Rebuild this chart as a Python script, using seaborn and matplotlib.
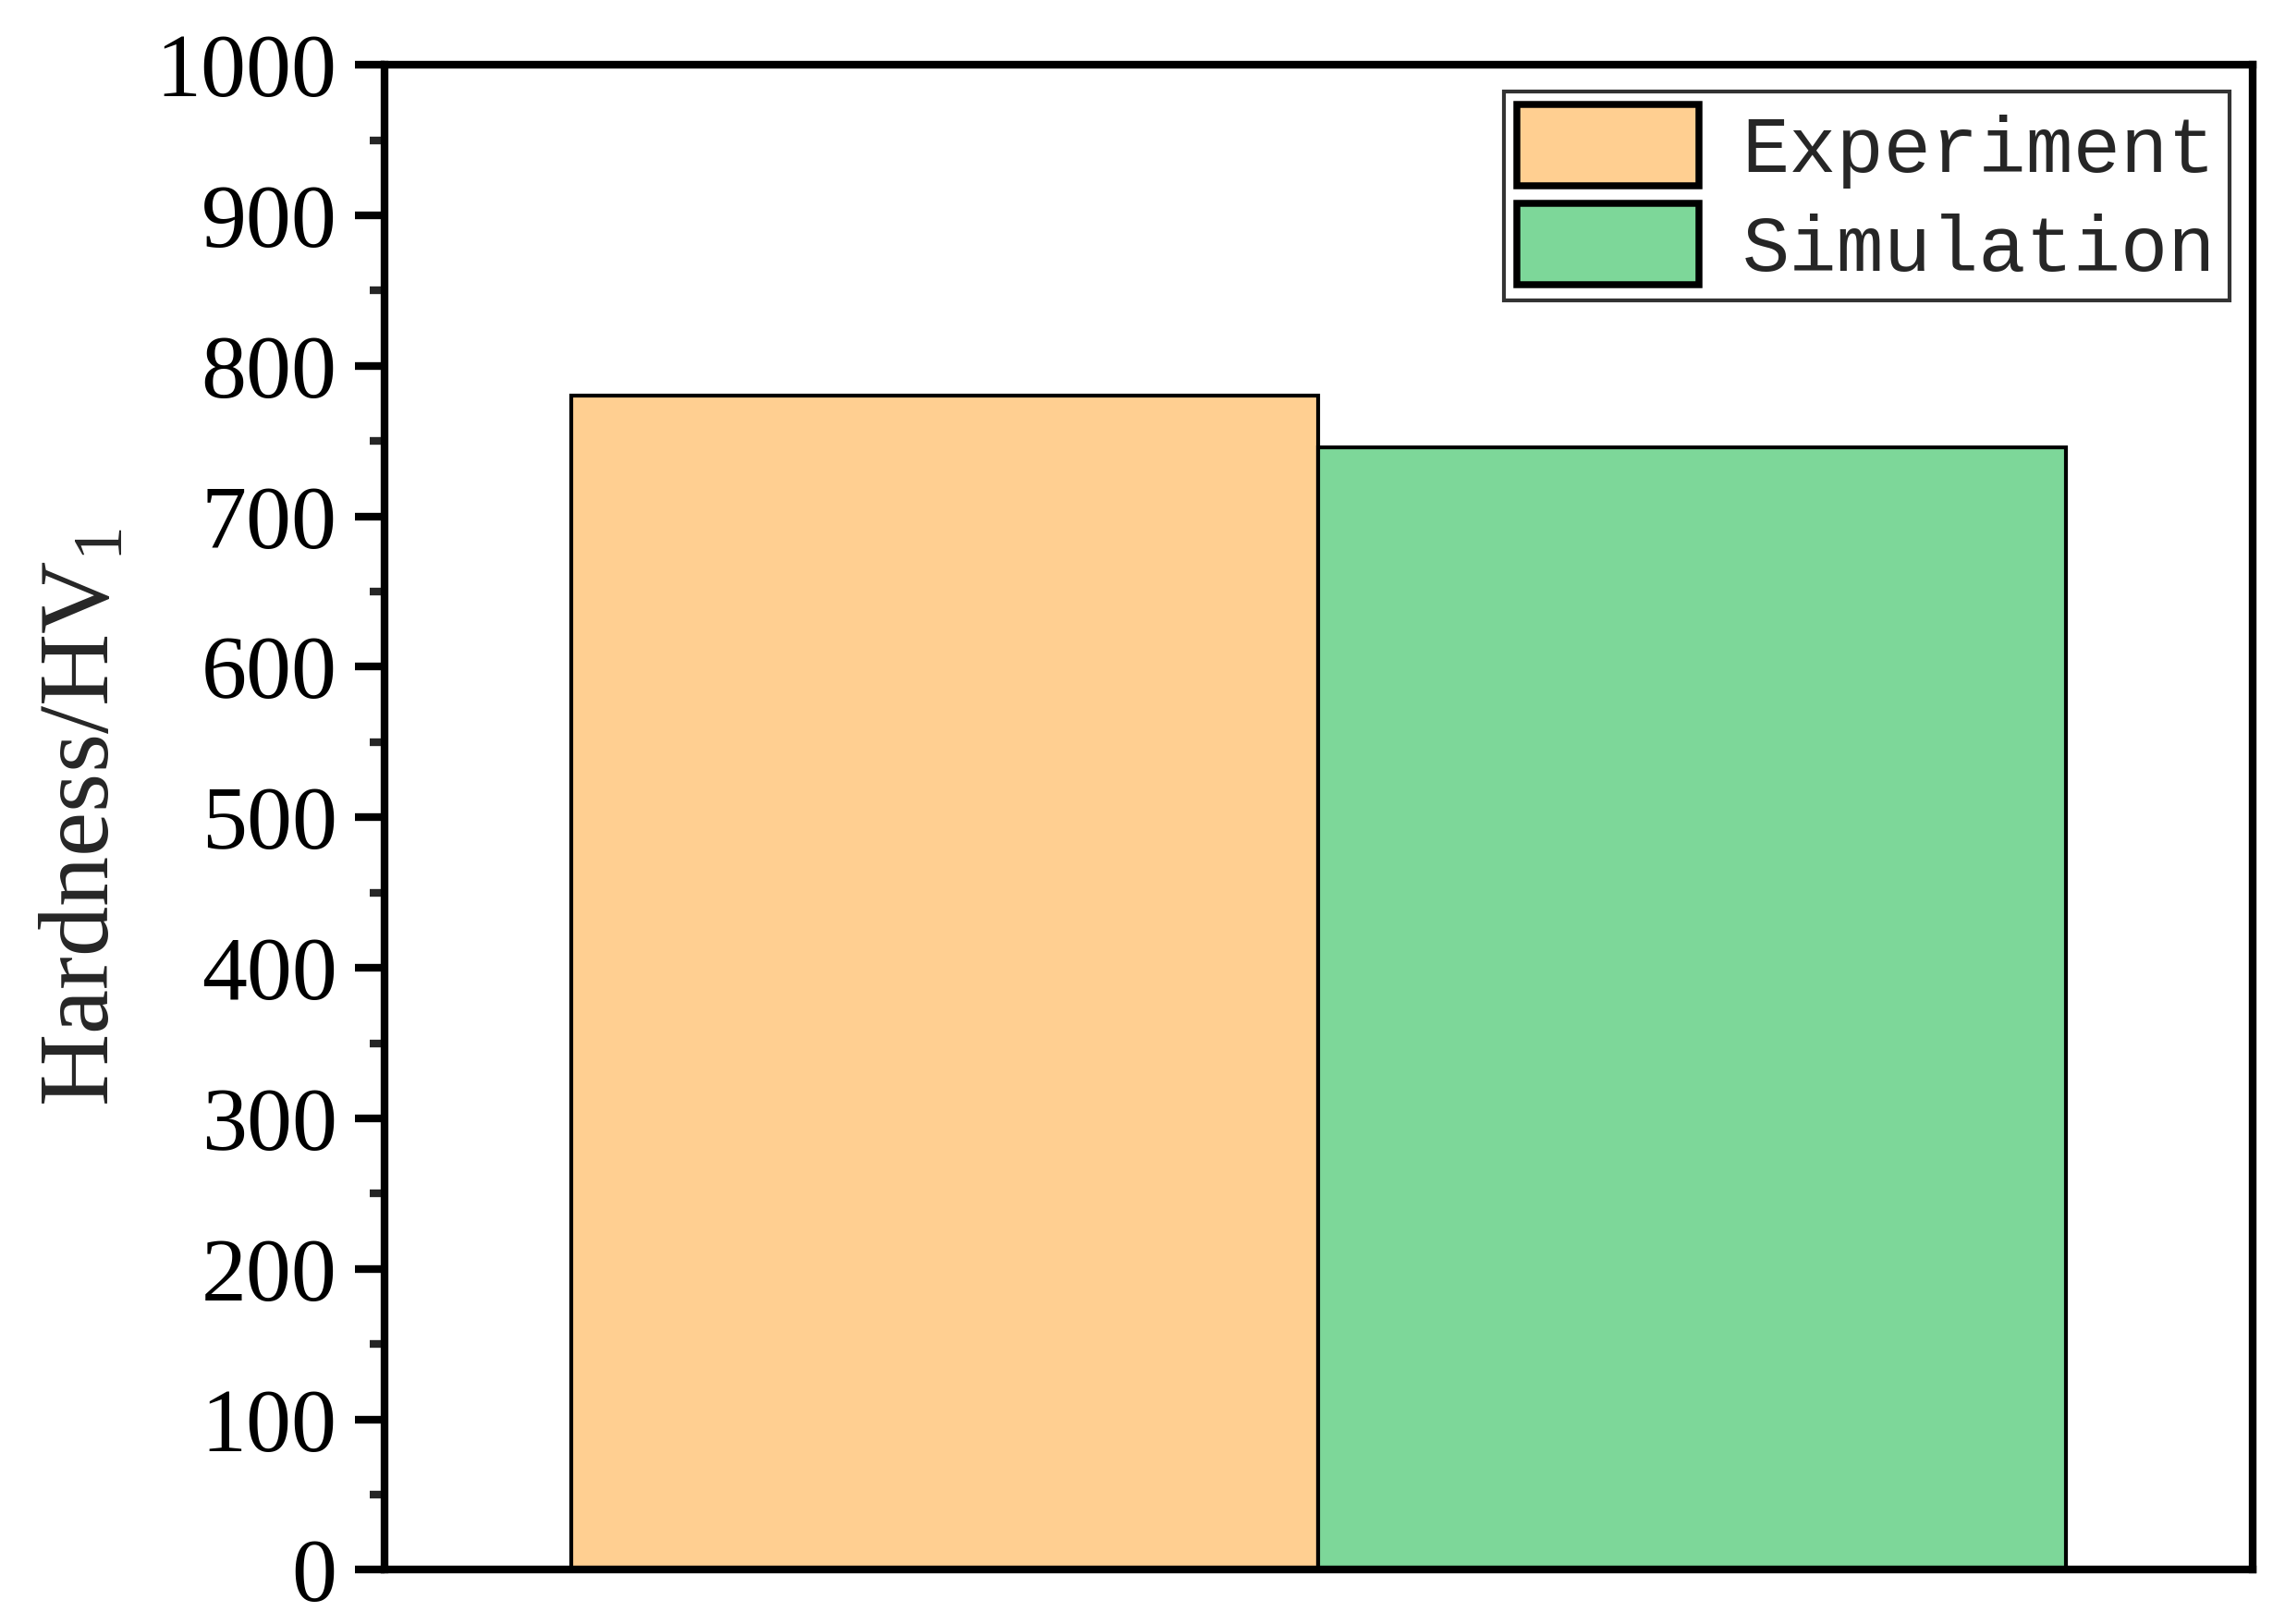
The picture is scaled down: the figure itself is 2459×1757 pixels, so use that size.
import numpy as np
import pandas as pd
import matplotlib
matplotlib.use("Agg")
import matplotlib.pyplot as plt
from matplotlib.ticker import MultipleLocator
import seaborn as sns

# data
groups = ["Experiment", "Simulation"]
hardness = [780, 746]
bar_colors = ["#FFCF91", "#7DD799"]

y_ticks = [0, 100, 200, 300, 400, 500, 600, 700, 800, 900, 1000]

df = pd.DataFrame({"group": groups, "hardness": hardness})

sns.set_style("ticks")
plt.rcParams["font.family"] = ["Liberation Serif", "DejaVu Serif"]
plt.rcParams["mathtext.fontset"] = "custom"
plt.rcParams["mathtext.rm"] = "Liberation Serif"
plt.rcParams["mathtext.it"] = "Liberation Serif:italic"

fig = plt.figure(figsize=(2459 / 300, 1757 / 300), dpi=300)
ax = fig.add_axes([0.169, 0.0334, 0.822, 0.9266])

sns.barplot(data=df, x="group", y="hardness", hue="group", palette=bar_colors,
            saturation=1, width=1.0, edgecolor="black", linewidth=1.0,
            legend=True, ax=ax)

# axes limits / ticks
ax.set_xlim(-0.75, 1.75)
ax.set_ylim(0, 1000)
ax.set_xticks([])
ax.set_xlabel("")
ax.set_yticks(y_ticks)
ax.yaxis.set_minor_locator(MultipleLocator(50))
ax.tick_params(axis="y", which="major", direction="out", length=7.7, width=2.0,
               pad=4.5, labelsize=23.5, colors="black")
ax.tick_params(axis="y", which="minor", direction="out", length=3.8, width=2.0)
for side in ["left", "right", "top", "bottom"]:
    ax.spines[side].set_visible(True)
    ax.spines[side].set_linewidth(2.0)
    ax.spines[side].set_color("black")

ax.set_ylabel(r"Hardness/HV$_\mathrm{1}$", fontsize=26, labelpad=7)

# legend, restyled
old = ax.get_legend()
handles = old.legend_handles
labels = [t.get_text() for t in old.get_texts()]
for h in handles:
    h.set_edgecolor("black")
    h.set_linewidth(1.8)
old.remove()
leg = ax.legend(handles, labels, loc="upper right", bbox_to_anchor=(0.9875, 0.9825),
                borderaxespad=0, fancybox=False, framealpha=1, edgecolor="#333333",
                prop={"family": "Liberation Mono", "size": 20.5},
                handlelength=2.3, handleheight=1.2, labelspacing=0.19,
                handletextpad=0.55, borderpad=0.17)
leg.get_frame().set_linewidth(1.0)

fig.savefig("out.png", dpi=300)
